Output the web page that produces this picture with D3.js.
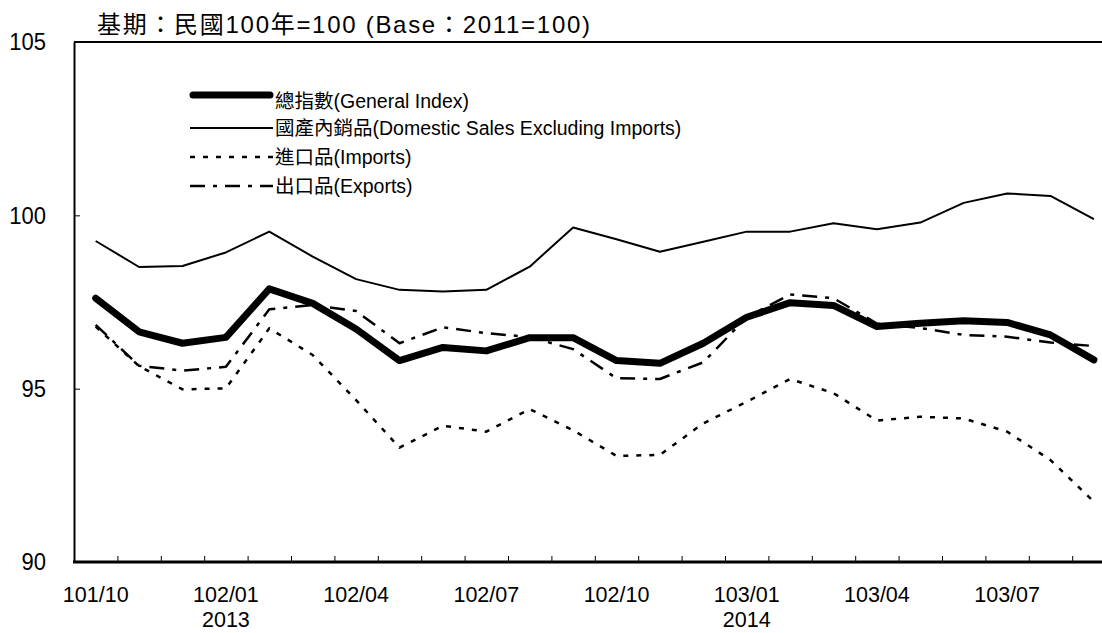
<!DOCTYPE html>
<html>
<head>
<meta charset="utf-8">
<script src="https://cdn.jsdelivr.net/npm/d3@7/dist/d3.min.js"></script>
<style>
  html, body { margin: 0; padding: 0; background: #fff; overflow: hidden; }
  svg { display: block; font-family: "Liberation Sans", Arial, "Noto Sans CJK TC", sans-serif; }
</style>
</head>
<body>
<svg id="chart" width="1102" height="633"></svg>
<script>
const months = ["101/10","101/11","101/12","102/01","102/02","102/03","102/04","102/05","102/06","102/07","102/08","102/09",
                "102/10","102/11","102/12","103/01","103/02","103/03","103/04","103/05","103/06","103/07","103/08","103/09"];
const tickLabels = ["101/10","102/01","102/04","102/07","102/10","103/01","103/04","103/07"];
const yearLabels = [["102/01","2013"],["103/01","2014"]];
const yTicks = [90, 95, 100, 105];

const general  = [97.61, 96.64, 96.31, 96.48, 97.88, 97.46, 96.72, 95.81, 96.19, 96.09, 96.47, 96.47,
                  95.81, 95.73, 96.31, 97.06, 97.48, 97.40, 96.79, 96.89, 96.96, 96.91, 96.55, 95.83];
const domestic = [99.26, 98.51, 98.54, 98.93, 99.53, 98.81, 98.16, 97.85, 97.80, 97.85, 98.52, 99.65,
                  99.31, 98.95, 99.24, 99.53, 99.53, 99.77, 99.60, 99.79, 100.36, 100.63, 100.56, 99.89];
const imports  = [96.79, 95.65, 94.98, 95.01, 96.74, 95.97, 94.67, 93.30, 93.93, 93.76, 94.41, 93.80,
                  93.06, 93.09, 94.00, 94.62, 95.28, 94.87, 94.08, 94.19, 94.14, 93.76, 92.94, 91.74];
const exportsS = [96.84, 95.66, 95.52, 95.63, 97.29, 97.41, 97.24, 96.31, 96.77, 96.60, 96.49, 96.14,
                  95.30, 95.28, 95.76, 97.06, 97.72, 97.61, 96.88, 96.75, 96.55, 96.50, 96.33, 96.23];

const titleText = "基期：民國100年=100 (Base：2011=100)";
const legendNames = ["總指數(General Index)", "國產內銷品(Domestic Sales Excluding Imports)", "進口品(Imports)", "出口品(Exports)"];

const series = [
  { name: legendNames[2], values: imports,  width: 2.5, dash: "5,8",          cap: "butt" },
  { name: legendNames[3], values: exportsS, width: 2.5, dash: "15,8,4,8",     cap: "butt" },
  { name: legendNames[1], values: domestic, width: 2,   dash: null,           cap: "butt" },
  { name: legendNames[0], values: general,  width: 7,   dash: null,           cap: "round" }
];

const svg = d3.select("#chart");
const mLeft = 74, mTop = 42, mBottom = 562;
const bw = 43.4;
const mRight = mLeft + bw * months.length;
const axisFont = "'Liberation Sans', Arial, sans-serif";
const sx = 0.915;
const yearMap = new Map(yearLabels);

const x = d3.scaleBand().domain(months).range([mLeft, mRight]).padding(0);
const y = d3.scaleLinear().domain([90, 105]).range([mBottom, mTop]);

// frame
svg.append("line").attr("x1", mLeft).attr("x2", 1102 + 20).attr("y1", mTop).attr("y2", mTop)
  .attr("stroke", "#000").attr("stroke-width", 2);

// y axis
const yAxis = d3.axisLeft(y).tickValues(yTicks).tickSizeInner(-6).tickSizeOuter(0).tickPadding(28);
const gy = svg.append("g").attr("transform", `translate(${mLeft},0)`).call(yAxis);
gy.select(".domain").attr("stroke-width", 2);
gy.selectAll(".tick line").attr("stroke-width", 1);
gy.selectAll(".tick text").attr("font-size", 24).attr("fill", "#000")
  .attr("font-family", axisFont)
  .attr("x", -28 / sx).attr("transform", `scale(${sx},1)`);

// bottom axis ticks at band boundaries
const xb = d3.scaleLinear().domain([0, months.length]).range([mLeft, mRight]);
const bAxis = d3.axisBottom(xb).tickValues(d3.range(1, months.length)).tickSizeInner(-6).tickSizeOuter(0).tickFormat("");
const gb = svg.append("g").attr("transform", `translate(0,${mBottom})`).call(bAxis);
gb.select(".domain").remove();
gb.selectAll(".tick line").attr("stroke-width", 1);

// labels axis (month label + optional year line)
const xAxis = d3.axisBottom(x).tickValues(tickLabels).tickSize(0).tickPadding(25);
const gx = svg.append("g").attr("transform", `translate(0,${mBottom})`).call(xAxis);
gx.select(".domain").remove();
gx.selectAll(".tick text").attr("font-size", 21.5).attr("fill", "#000")
  .attr("font-family", axisFont)
  .each(function(d) {
    const t = d3.select(this);
    if (yearMap.has(d)) {
      t.text(null);
      t.append("tspan").attr("x", 0).text(d);
      t.append("tspan").attr("x", 0).attr("dy", 24.5).text(yearMap.get(d));
    }
  });

// bottom axis line
svg.append("line").attr("x1", mLeft - 1).attr("x2", 1102 + 20).attr("y1", mBottom).attr("y2", mBottom)
  .attr("stroke", "#000").attr("stroke-width", 3);

// lines
const line = d3.line().x((d, i) => x(months[i]) + x.bandwidth() / 2).y(d => y(d));
svg.append("g").selectAll("path").data(series).join("path")
  .attr("d", d => line(d.values))
  .attr("fill", "none").attr("stroke", "#000")
  .attr("stroke-width", d => d.width)
  .attr("stroke-dasharray", d => d.dash)
  .attr("stroke-linecap", d => d.cap)
  .attr("stroke-linejoin", "round");

// title
svg.append("text").attr("x", 97).attr("y", 33).attr("font-size", 24).attr("fill", "#000")
  .attr("textLength", 493).attr("lengthAdjust", "spacing").text(titleText);

// legend
const legendOrder = [series[3], series[2], series[0], series[1]];
const legY = [95, 128, 157, 186];
const lg = svg.append("g");
legendOrder.forEach((s, i) => {
  lg.append("line").attr("x1", s.cap === "round" ? 193 : 190).attr("x2", s.cap === "round" ? 270 : 273)
    .attr("y1", legY[i]).attr("y2", legY[i])
    .attr("stroke", "#000").attr("stroke-width", s.width)
    .attr("stroke-dasharray", s.dash).attr("stroke-linecap", s.cap);
  lg.append("text").attr("x", 275).attr("y", (i === 0 ? 101 : legY[i]) + 7)
    .attr("font-size", 19.5).attr("fill", "#000").text(s.name);
});
</script>
</body>
</html>
